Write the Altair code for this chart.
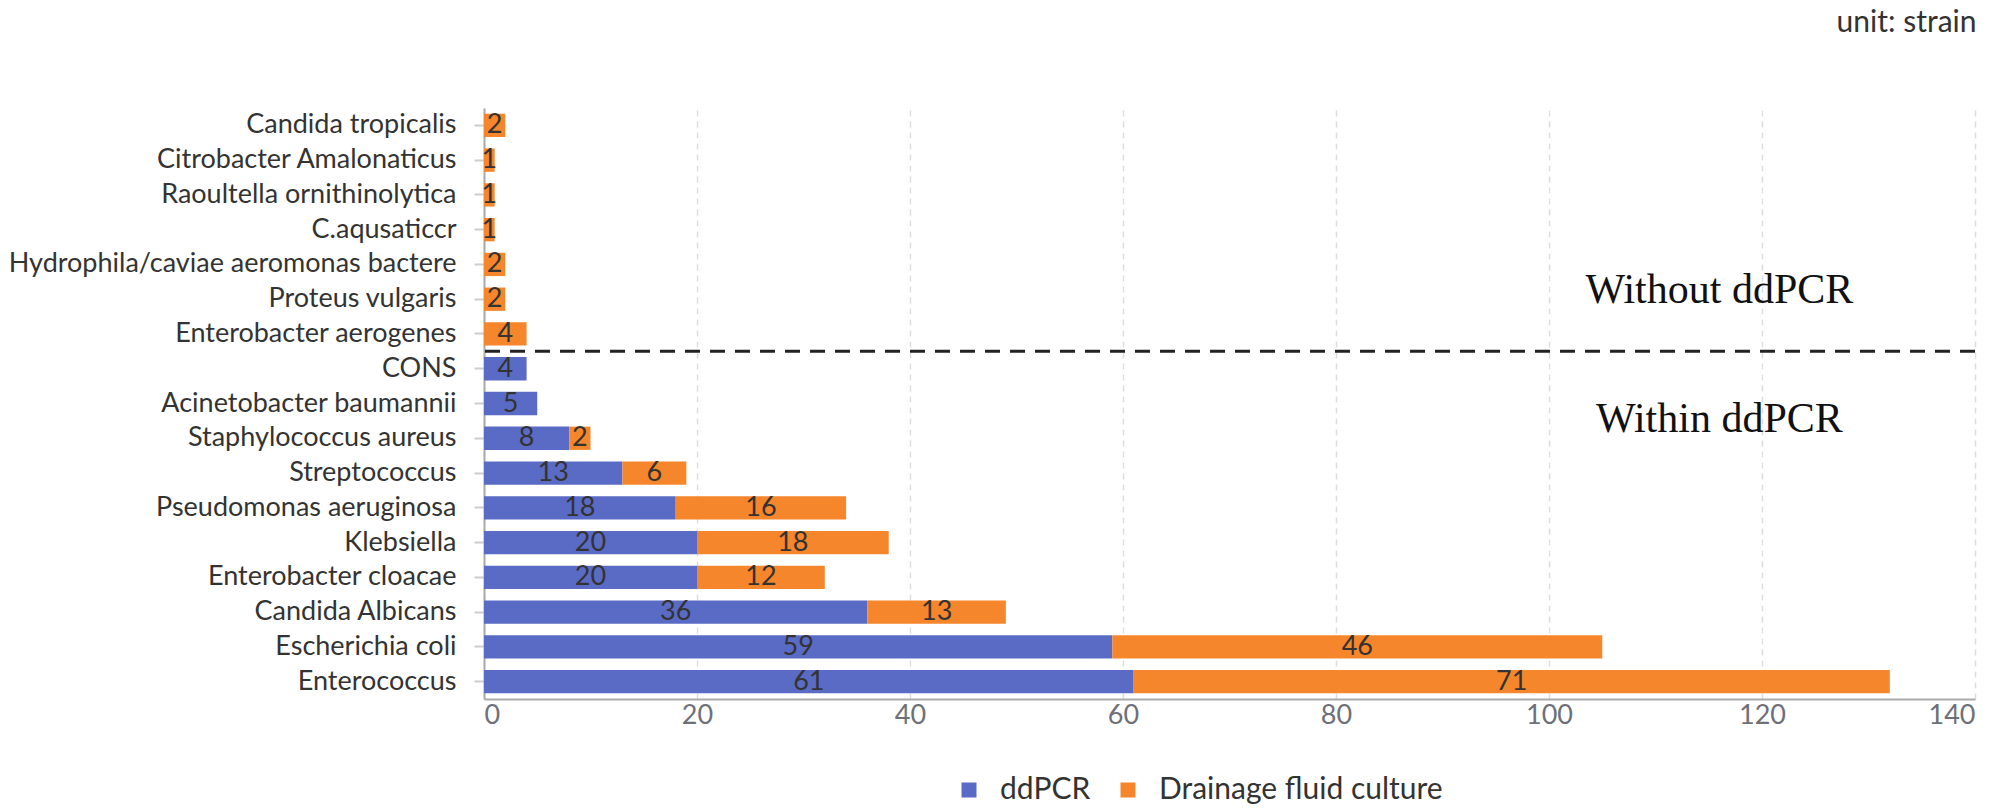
import altair as alt
import pandas as pd

categories = [
    "Candida tropicalis", "Citrobacter Amalonaticus", "Raoultella ornithinolytica",
    "C.aqusaticcr", "Hydrophila/caviae aeromonas bactere", "Proteus vulgaris",
    "Enterobacter aerogenes", "CONS", "Acinetobacter baumannii", "Staphylococcus aureus",
    "Streptococcus", "Pseudomonas aeruginosa", "Klebsiella", "Enterobacter cloacae",
    "Candida Albicans", "Escherichia coli", "Enterococcus",
]
ddpcr = [0, 0, 0, 0, 0, 0, 0, 4, 5, 8, 13, 18, 20, 20, 36, 59, 61]
culture = [2, 1, 1, 1, 2, 2, 4, 0, 0, 2, 6, 16, 18, 12, 13, 46, 71]
series_names = ["ddPCR", "Drainage fluid culture"]
colors = ["#5a6bc5", "#f5862b"]
x_ticks = [0, 20, 40, 60, 80, 100, 120, 140]

rows = []
for cat, d, c in zip(categories, ddpcr, culture):
    rows.append({"category": cat, "series": series_names[0], "order": 0, "value": d})
    rows.append({"category": cat, "series": series_names[1], "order": 1, "value": c})
df = pd.DataFrame(rows)

W, H = 1491, 591
P_IN = 0.33
STEP = H / (len(categories))
yscale = alt.Scale(domain=categories, paddingInner=P_IN, paddingOuter=P_IN / 2)
xscale = alt.Scale(domain=[0, 140], nice=False)

base = (
    alt.Chart(df)
    .transform_filter("datum.value > 0")
    .transform_stack(stack="value", groupby=["category"], as_=["x0", "x1"],
                     sort=[alt.SortField("order", order="ascending")])
    .transform_calculate(mid="(datum.x0 + datum.x1) / 2")
)

bars = base.mark_bar().encode(
    y=alt.Y("category:N", scale=yscale, sort=categories, title=None,
            axis=alt.Axis(labelFont="Lato", labelFontSize=27, labelColor="#333333",
                          tickColor="#cccccc", tickSize=10, tickWidth=2, labelPadding=18,
                          domainColor="#aaaaaa", domainWidth=2, labelLimit=700, grid=False)),
    x=alt.X("x0:Q", scale=xscale, title=None,
            axis=alt.Axis(values=x_ticks, labelFont="Lato", labelFontSize=27,
                          labelColor="#6e7079", ticks=False, labelPadding=3,
                          domainColor="#aaaaaa", domainWidth=2, grid=True,
                          gridDash=[6, 5], gridColor="#dddddd", gridWidth=1.5)),
    x2="x1:Q",
    color=alt.Color("series:N", scale=alt.Scale(domain=series_names, range=colors),
                    legend=alt.Legend(title=None, orient="none", direction="horizontal",
                                      legendX=470, legendY=667, symbolType="square",
                                      symbolSize=225, symbolStrokeWidth=0,
                                      labelFont="Lato", labelFontSize=30, labelLimit=500,
                                      labelColor="#333333", labelOffset=16,
                                      columnPadding=22)),
)

labels = base.mark_text(font="Lato", fontSize=27, color="#333333").encode(
    y=alt.Y("category:N", sort=categories),
    x=alt.X("mid:Q"),
    text=alt.Text("value:Q"),
)

rule = alt.Chart(pd.DataFrame({"category": ["CONS"]})).mark_rule(
    strokeDash=[15, 10], strokeWidth=3, color="#222222"
).encode(
    y=alt.Y("category:N", bandPosition=0),
    yOffset=alt.value(-STEP * P_IN / 2),
)

t1 = alt.Chart(pd.DataFrame({"label": ["Without ddPCR"]})).mark_text(
    font="Liberation Serif", fontSize=42, color="#111111", baseline="alphabetic", dy=4
).encode(x=alt.datum(116), y=alt.datum("Proteus vulgaris"), text="label:N")

t2 = alt.Chart(pd.DataFrame({"label": ["Within ddPCR"]})).mark_text(
    font="Liberation Serif", fontSize=42, color="#111111", baseline="alphabetic", dy=-6
).encode(x=alt.datum(116), y=alt.datum("Staphylococcus aureus"), text="label:N")

chart = (
    alt.layer(bars, labels, rule, t1, t2)
    .properties(
        width=W, height=H,
        padding={"left": 0, "top": 0, "right": 5, "bottom": 0},
        title=alt.TitleParams("unit: strain", anchor="end", font="Lato", fontSize=30,
                              fontWeight="normal", color="#333333", offset=70),
    )
    .configure_view(stroke=None)
)

chart.save("out.html", embed_options={"renderer": "svg", "actions": False})
